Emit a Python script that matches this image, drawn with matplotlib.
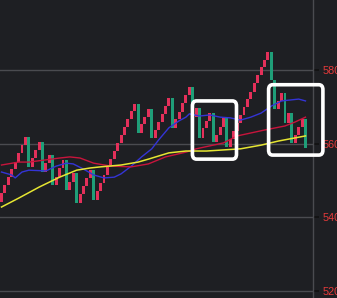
import matplotlib
matplotlib.use('Agg')
from matplotlib import pyplot as plt
from matplotlib.patches import FancyBboxPatch
import numpy as np

# line break bars: open / close prices, red = up, green = down
opens = [544.2, 546.6, 548.8, 550.9, 553.1, 555.0, 557.5, 559.6, 561.8, 553.7,
         556.1, 558.3, 560.5, 552.3, 554.7, 556.9, 548.8, 550.9, 553.4, 555.6,
         547.4, 549.6, 552.0, 543.9, 546.3, 548.5, 550.7, 552.8, 544.7, 547.1,
         549.3, 551.5, 553.7, 555.8, 558.0, 560.2, 562.4, 564.5, 566.7, 568.9,
         570.8, 562.9, 565.3, 567.2, 569.4, 561.5, 563.7, 565.9, 568.1, 570.2,
         572.4, 564.3, 566.7, 568.6, 571.0, 573.2, 575.4, 567.2, 569.7, 561.5,
         564.3, 566.2, 568.3, 560.5, 562.4, 564.5, 567.0, 559.1, 561.3, 563.4,
         565.6, 567.8, 570.0, 572.1, 574.0, 576.5, 578.6, 580.8, 582.7, 584.9,
         577.3, 569.4, 571.6, 573.8, 565.6, 568.3, 560.2, 562.4, 564.5, 566.7]
closes = [546.6, 548.8, 550.9, 553.1, 555.0, 557.5, 559.6, 561.8, 553.7, 556.1,
          558.3, 560.5, 552.3, 554.7, 556.9, 548.8, 550.9, 553.4, 555.6, 547.4,
          549.6, 552.0, 543.9, 546.3, 548.5, 550.7, 552.8, 544.7, 547.1, 549.3,
          551.5, 553.7, 555.8, 558.0, 560.2, 562.4, 564.5, 566.7, 568.9, 570.8,
          562.9, 565.3, 567.2, 569.4, 561.5, 563.7, 565.9, 568.1, 570.2, 572.4,
          564.3, 566.7, 568.6, 571.0, 573.2, 575.4, 567.2, 569.7, 561.5, 564.3,
          566.2, 568.3, 560.5, 562.4, 564.5, 567.0, 559.1, 561.3, 563.4, 565.6,
          567.8, 570.0, 572.1, 574.0, 576.5, 578.6, 580.8, 582.7, 584.9, 577.3,
          569.4, 571.6, 573.8, 565.6, 568.3, 560.2, 562.4, 564.5, 566.7, 558.8]

# moving average lines (bar index, price)
ma_fast_x = [0, 3, 4, 6, 8, 13, 16, 19, 21, 24, 27, 30, 33, 35, 38, 41, 44, 46,
             49, 52, 54, 55, 58, 61, 64, 67, 70, 73, 76, 79, 82, 85, 87, 89]
ma_fast = [552.3, 551.5, 550.7, 552.3, 552.8, 552.6, 553.9, 554.7, 554.5, 553.1,
           551.5, 550.7, 550.9, 551.8, 553.9, 556.4, 558.6, 561.0, 564.3, 566.2,
           567.2, 568.1, 567.5, 567.8, 567.2, 567.0, 566.4, 567.2, 568.3, 570.2,
           571.6, 571.9, 572.1, 571.6]
ma_mid_x = [0, 5, 8, 13, 17, 20, 23, 27, 32, 38, 43, 48, 54, 57, 62, 65, 69, 73,
            77, 83, 86, 89]
ma_mid = [554.2, 555.0, 555.0, 555.6, 556.1, 556.4, 556.1, 554.7, 553.9, 553.7,
          554.5, 556.4, 557.7, 558.6, 559.6, 560.2, 562.1, 562.9, 563.7, 564.8,
          565.9, 567.2]
ma_slow_x = [0, 5, 11, 17, 22, 26, 29, 35, 40, 43, 49, 54, 60, 65, 70, 76, 81, 89]
ma_slow = [542.8, 545.2, 548.2, 550.9, 552.8, 553.4, 553.7, 554.2, 555.0, 555.8,
           557.5, 558.0, 558.0, 558.3, 558.6, 559.6, 560.7, 562.1]

yticks = [520, 540, 560, 580]

# highlight boxes (bar index range, price range)
boxes = [(55.9, 68.8, 555.8, 571.6), (78.2, 94.1, 556.9, 576.0)]

bg = '#1e1f23'
fig = plt.figure(figsize=(3.37, 2.98), dpi=100, facecolor=bg)
ax = fig.add_axes([0, 0, 313 / 337, 1])
ax.set_facecolor(bg)

opens = np.array(opens)
closes = np.array(closes)
idx = np.arange(len(opens))
up = closes >= opens
colors = np.where(up, '#e4305a', '#1f9e78')
ax.bar(idx, closes - opens, bottom=opens, width=0.86, color=colors, zorder=3)

ax.plot(ma_fast_x, ma_fast, color='#3434d6', lw=1.0, zorder=4)
ax.plot(ma_mid_x, ma_mid, color='#c8143c', lw=1.0, zorder=4)
ax.plot(ma_slow_x, ma_slow, color='#e6e632', lw=1.1, zorder=4)

for x0, x1, y0, y1 in boxes:
    ax.add_patch(FancyBboxPatch((x0, y0), x1 - x0, y1 - y0,
                                boxstyle='round,pad=0,rounding_size=1.2',
                                mutation_aspect=1.1,
                                fill=False, ec='white', lw=2.6, zorder=6,
                                clip_on=False))

ax.set_xlim(-0.44, 91.2)
ax.set_ylim(518.1, 599.0)
ax.set_yticks(yticks)
ax.yaxis.tick_right()
ax.tick_params(axis='y', colors='#111111', length=4, width=1.2, pad=3,
               labelcolor='#e83a3a', labelsize=7.8)
for lab in ax.get_yticklabels():
    lab.set_family('Liberation Sans')
ax.tick_params(axis='x', bottom=False, labelbottom=False)
ax.grid(axis='y', color='#4a4b50', lw=1.0, zorder=0)
for s in ['top', 'left', 'bottom']:
    ax.spines[s].set_visible(False)
ax.spines['right'].set_color('#4a4b50')
ax.spines['right'].set_linewidth(1.0)

fig.savefig('out.png', dpi=100, facecolor=bg)
